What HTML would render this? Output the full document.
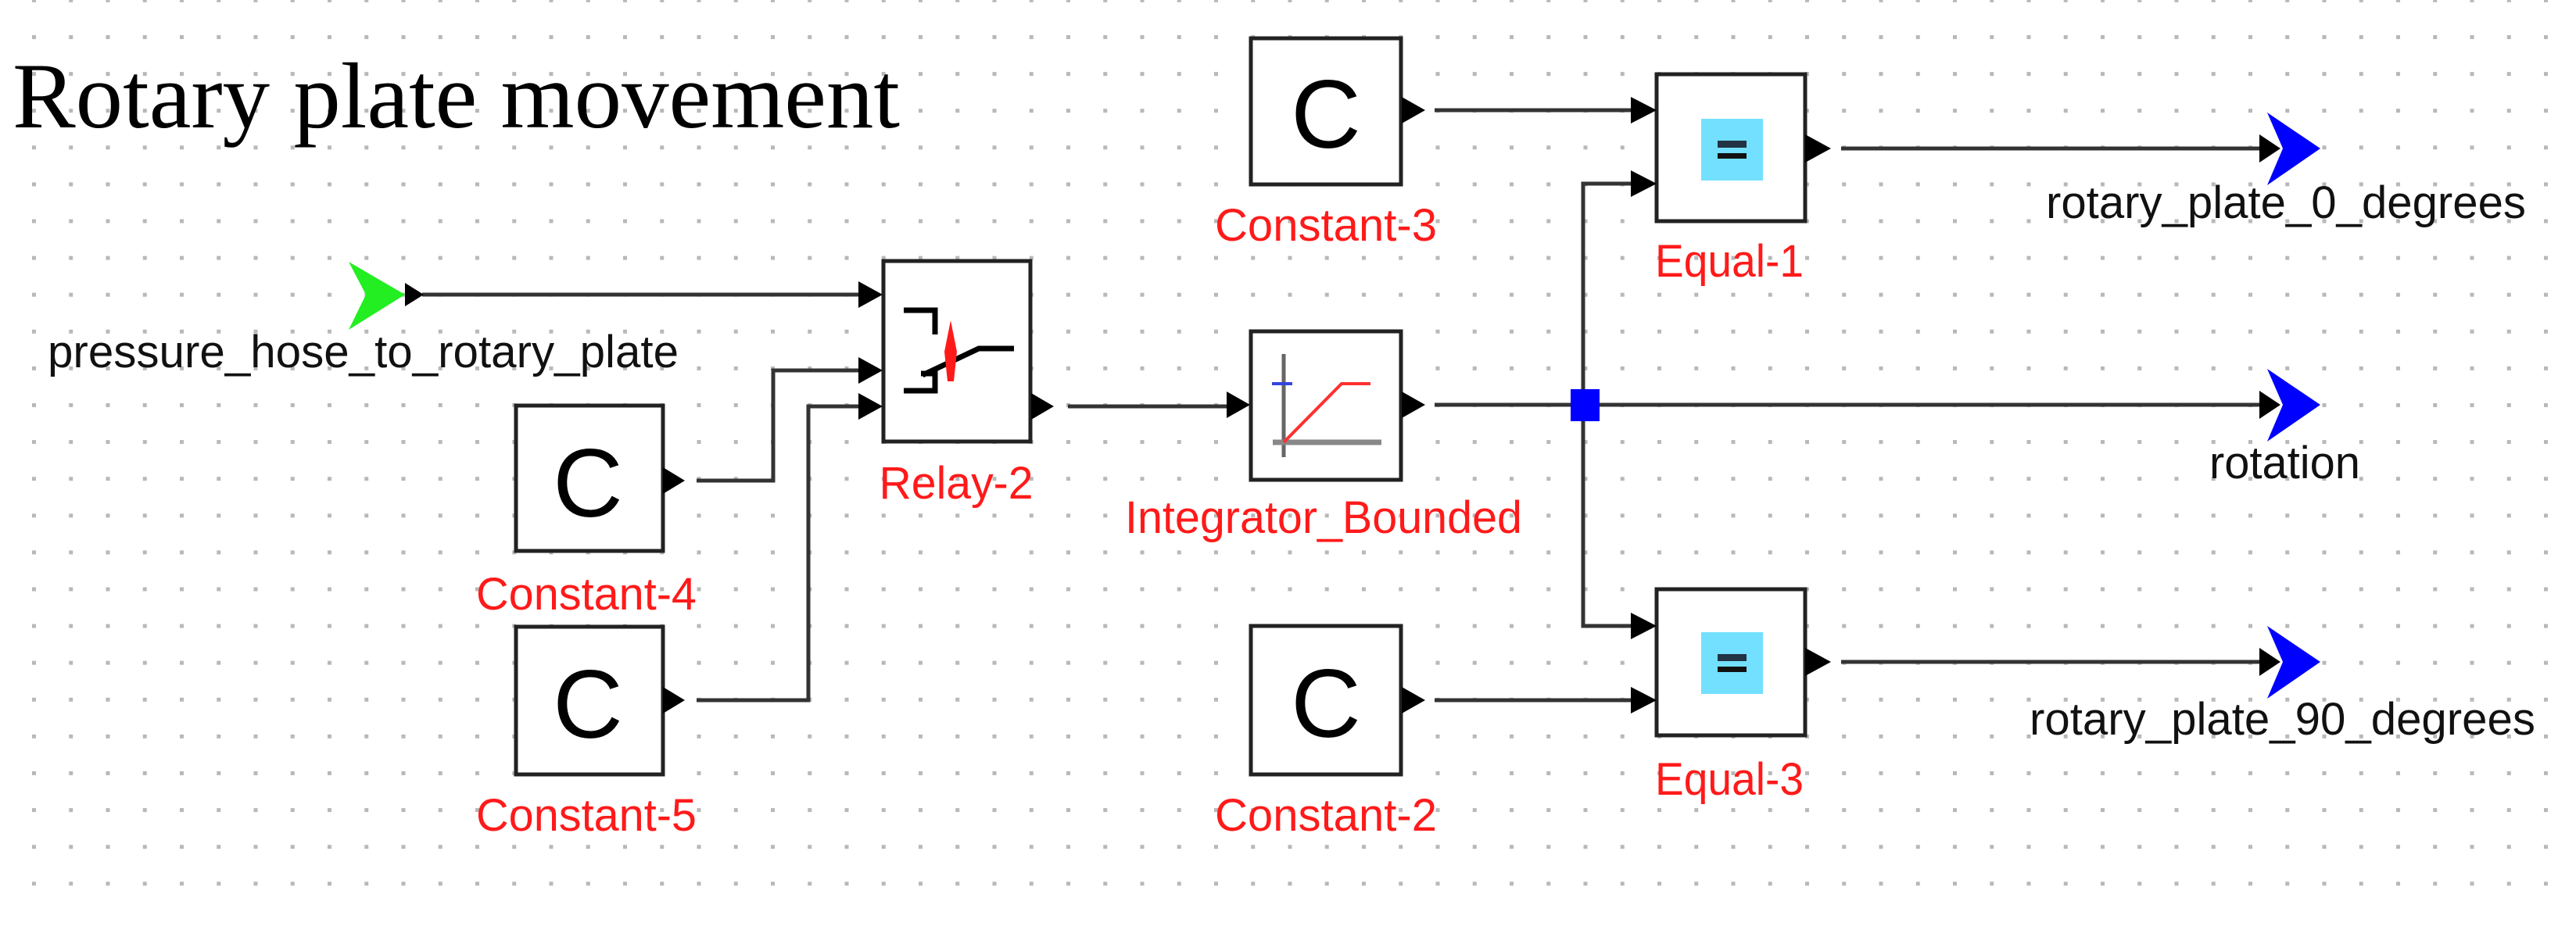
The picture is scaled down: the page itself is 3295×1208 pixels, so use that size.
<!DOCTYPE html>
<html><head><meta charset="utf-8"><style>
html,body{margin:0;padding:0;background:#fff;}
svg{display:block;}
.lbl{font-family:"Liberation Sans",Arial,sans-serif;font-size:58px;fill:#ff1a1a;text-anchor:middle;}
.blk{font-family:"Liberation Sans",Arial,sans-serif;font-size:58px;fill:#111;}
.C{font-family:"Liberation Sans",Arial,sans-serif;font-size:124px;fill:#000;text-anchor:middle;}
.box{fill:#fff;stroke:#222;stroke-width:5;}
.w{stroke:#333;stroke-width:5;fill:none;}
</style></head><body>
<svg width="3295" height="1208" viewBox="0 0 3295 1208" xmlns="http://www.w3.org/2000/svg">
<defs>
<pattern id="g" x="41" y="45" width="47.25" height="47.1" patternUnits="userSpaceOnUse">
<rect x="0" y="0" width="5" height="5" fill="#b8b8b8"/>
</pattern>
</defs>
<rect x="0" y="0" width="3295" height="1150" fill="url(#g)"/>
<rect x="0" y="1150" width="3295" height="58" fill="#fff"/>

<text x="16" y="163" font-family="'Liberation Serif',serif" font-size="120" fill="#000" textLength="1135" lengthAdjust="spacingAndGlyphs">Rotary plate movement</text>

<!-- wires -->
<path class="w" d="M540 377 H1098"/>
<path class="w" d="M891 615 H989 V474 H1098"/>
<path class="w" d="M891 896 H1034 V520 H1098"/>
<path class="w" d="M1366 520 H1569"/>
<path class="w" d="M1835 141 H2086"/>
<path class="w" d="M1835 518 H2893"/>
<path class="w" d="M2086 235 H2025 V801 H2086"/>
<path class="w" d="M1835 896 H2086"/>
<path class="w" d="M2355 190 H2893"/>
<path class="w" d="M2355 847 H2893"/>

<!-- green input arrow -->
<polygon points="446,335 518,377 446,422 468,377" fill="#22ee22"/>
<polygon points="518,362 542,377 518,392" fill="#000"/>
<text class="blk" x="61" y="470" textLength="807" lengthAdjust="spacingAndGlyphs">pressure_hose_to_rotary_plate</text>

<!-- Relay -->
<rect class="box" x="1130" y="334" width="188" height="231"/>
<polygon points="1098,360 1129,377 1098,394" fill="#000"/>
<polygon points="1098,457 1129,474 1098,491" fill="#000"/>
<polygon points="1098,503 1129,520 1098,537" fill="#000"/>
<polygon points="1319,503 1348,520 1319,537" fill="#000"/>
<path d="M1156 397 H1196 V428" stroke="#000" stroke-width="7" fill="none"/>
<path d="M1156 500 H1196 V478 H1178" stroke="#000" stroke-width="7" fill="none"/>
<path d="M1180 480 L1252 446 H1297" stroke="#000" stroke-width="7" fill="none"/>
<polygon points="1216,410 1224,450 1220,488 1212,488 1208,450" fill="#ff1a1a"/>
<text class="lbl" x="1223" y="638" textLength="197" lengthAdjust="spacingAndGlyphs">Relay-2</text>

<!-- Constant-4 -->
<rect class="box" x="660" y="519" width="188" height="186"/>
<text class="C" x="752" y="661">C</text>
<polygon points="848,598 876,615 848,632" fill="#000"/>
<text class="lbl" x="750" y="780" textLength="282" lengthAdjust="spacingAndGlyphs">Constant-4</text>

<!-- Constant-5 -->
<rect class="box" x="660" y="802" width="188" height="189"/>
<text class="C" x="752" y="944">C</text>
<polygon points="848,879 876,896 848,913" fill="#000"/>
<text class="lbl" x="750" y="1063" textLength="282" lengthAdjust="spacingAndGlyphs">Constant-5</text>

<!-- Constant-3 -->
<rect class="box" x="1600" y="49" width="192" height="187"/>
<text class="C" x="1696" y="189">C</text>
<polygon points="1793,124 1823,141 1793,158" fill="#000"/>
<text class="lbl" x="1696" y="308" textLength="284" lengthAdjust="spacingAndGlyphs">Constant-3</text>

<!-- Integrator -->
<rect class="box" x="1600" y="424" width="192" height="190"/>
<polygon points="1569,501 1599,518 1569,535" fill="#000"/>
<polygon points="1793,501 1823,518 1793,535" fill="#000"/>
<path d="M1642 453 V585" stroke="#666" stroke-width="5"/>
<path d="M1628 566 H1767" stroke="#888" stroke-width="7"/>
<path d="M1627 491 H1653" stroke="#3344dd" stroke-width="4"/>
<path d="M1642 566 L1716 491 H1753" stroke="#ff3030" stroke-width="4" fill="none"/>
<text class="lbl" x="1693" y="682" textLength="508" lengthAdjust="spacingAndGlyphs">Integrator_Bounded</text>

<!-- junction -->
<rect x="2009" y="498" width="37" height="41" fill="#0000ff"/>

<!-- Equal-1 -->
<rect class="box" x="2119" y="95" width="190" height="188"/>
<rect x="2176" y="152" width="79" height="79" fill="#73e0ff"/>
<rect x="2197" y="180" width="37" height="9" fill="#234"/>
<rect x="2197" y="196" width="37" height="7" fill="#111"/>
<polygon points="2086,124 2119,141 2086,158" fill="#000"/>
<polygon points="2086,218 2119,235 2086,252" fill="#000"/>
<polygon points="2309,172 2342,190 2309,208" fill="#000"/>
<text class="lbl" x="2212" y="354" textLength="190" lengthAdjust="spacingAndGlyphs">Equal-1</text>

<!-- Equal-3 -->
<rect class="box" x="2119" y="754" width="190" height="187"/>
<rect x="2176" y="809" width="79" height="79" fill="#73e0ff"/>
<rect x="2197" y="837" width="37" height="9" fill="#234"/>
<rect x="2197" y="853" width="37" height="7" fill="#111"/>
<polygon points="2086,784 2119,801 2086,818" fill="#000"/>
<polygon points="2086,879 2119,896 2086,913" fill="#000"/>
<polygon points="2309,829 2342,847 2309,865" fill="#000"/>
<text class="lbl" x="2212" y="1017" textLength="190" lengthAdjust="spacingAndGlyphs">Equal-3</text>

<!-- Constant-2 -->
<rect class="box" x="1600" y="801" width="192" height="190"/>
<text class="C" x="1696" y="943">C</text>
<polygon points="1793,879 1823,896 1793,913" fill="#000"/>
<text class="lbl" x="1696" y="1063" textLength="284" lengthAdjust="spacingAndGlyphs">Constant-2</text>

<!-- output arrows -->
<polygon points="2890,172 2917,190 2890,208" fill="#000"/>
<polygon points="2900,144 2968,190 2900,237 2920,190" fill="#0000ff"/>
<text class="blk" x="2617" y="279" textLength="614" lengthAdjust="spacingAndGlyphs">rotary_plate_0_degrees</text>

<polygon points="2890,500 2917,518 2890,536" fill="#000"/>
<polygon points="2900,472 2968,518 2900,565 2920,518" fill="#0000ff"/>
<text class="blk" x="2826" y="612" textLength="193" lengthAdjust="spacingAndGlyphs">rotation</text>

<polygon points="2890,829 2917,847 2890,865" fill="#000"/>
<polygon points="2900,801 2968,847 2900,894 2920,847" fill="#0000ff"/>
<text class="blk" x="2596" y="940" textLength="647" lengthAdjust="spacingAndGlyphs">rotary_plate_90_degrees</text>
</svg>
</body></html>
